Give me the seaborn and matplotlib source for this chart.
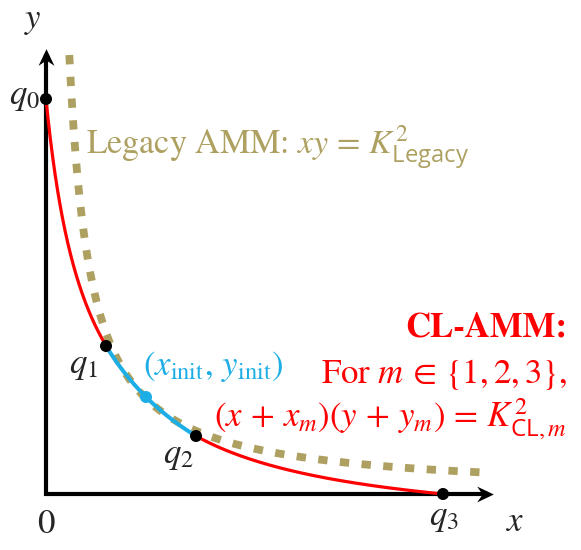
import numpy as np
import matplotlib
matplotlib.use("Agg")
import matplotlib.pyplot as plt
from matplotlib.path import Path
import seaborn as sns

# Key points (pixel offsets from the origin)
q_labels = ["$q_0$", "$q_1$", "$q_2$", "$q_3$"]
q_x = [0, 60, 150, 397]
q_y = [395, 148, 58, 0]

# CL-AMM pieces: (x + x_m)(y + y_m) = K_m^2, one piece per pair of q points
seg_xm = [41, 82, 31]
seg_ym = [20, 84, 42.5]
seg_colors = ["#FF0000", "#1EAEE6", "#FF0000"]

# Legacy curve: (x - shift) * y = K_legacy^2
legacy_shift = 2
legacy_k = 9350
legacy_x_range = [23.3, 443]

init_x = 100
init_y = 97

sns.set_theme(style="white")
plt.rcParams["font.family"] = ["STIXGeneral", "DejaVu Serif"]
plt.rcParams["mathtext.fontset"] = "custom"
plt.rcParams["mathtext.rm"] = "STIXGeneral"
plt.rcParams["mathtext.it"] = "STIXGeneral:italic"
plt.rcParams["mathtext.bf"] = "STIXGeneral:bold"
plt.rcParams["mathtext.sf"] = "Open Sans"
plt.rcParams["mathtext.fallback"] = "stix"

fig = plt.figure(figsize=(5.81, 5.5), dpi=100)
ax = fig.add_axes([0, 0, 1, 1])
ax.set_xlim(-46, 535)
ax.set_ylim(-56, 494)
ax.set_axis_off()

# axes with stealth arrow heads
ax.plot([0, 0, 442], [440, 0, 0], color="black", lw=3, solid_joinstyle="miter",
        solid_capstyle="butt", zorder=2)
stealth_right = Path([(1, 0), (-1, 0.95), (-0.35, 0), (-1, -0.95), (1, 0)],
                     [Path.MOVETO, Path.LINETO, Path.LINETO, Path.LINETO, Path.CLOSEPOLY])
stealth_up = Path([(0, 1), (0.95, -1), (0, -0.35), (-0.95, -1), (0, 1)],
                  [Path.MOVETO, Path.LINETO, Path.LINETO, Path.LINETO, Path.CLOSEPOLY])
ax.plot([439], [0], marker=stealth_right, markersize=12, color="black", mew=0, zorder=2)
ax.plot([0], [437], marker=stealth_up, markersize=12, color="black", mew=0, zorder=2)

# legacy AMM curve
lx = np.linspace(legacy_x_range[0], legacy_x_range[1], 400)
ly = legacy_k / (lx - legacy_shift)
ax.plot(lx, ly, color="#ADA060", lw=5.6, linestyle=(0, (1.2, 1.6)),
        dash_capstyle="butt", zorder=3)

# CL-AMM pieces
for m in range(3):
    k = (q_x[m] + seg_xm[m]) * (q_y[m] + seg_ym[m])
    sx = np.linspace(q_x[m], q_x[m + 1], 200)
    sy = k / (sx + seg_xm[m]) - seg_ym[m]
    sns.lineplot(x=sx, y=sy, ax=ax, color=seg_colors[m], sort=False,
                 lw=2.3 if m != 1 else 2.9, zorder=4)

sns.scatterplot(x=q_x, y=q_y, ax=ax, color="black", s=75, edgecolor="none", zorder=6)
sns.scatterplot(x=[init_x], y=[init_y], ax=ax, color="#1EAEE6", s=75,
                edgecolor="none", zorder=6)

fs = 25
ax.text(-13, 473, "$y$", fontsize=fs, ha="center", va="center")
ax.text(469, -29, "$x$", fontsize=fs, ha="center", va="center")
ax.text(0, -31, "0", fontsize=fs, ha="center", va="center")
ax.text(-6, 397, q_labels[0], fontsize=fs, ha="right", va="center")
ax.text(52, 128, q_labels[1], fontsize=fs, ha="right", va="center")
ax.text(132, 38, q_labels[2], fontsize=fs, ha="center", va="center")
ax.text(398, -24, q_labels[3], fontsize=fs, ha="center", va="center")

ax.text(40, 346, r"Legacy AMM: $xy\,=\,K_{\mathsf{Legacy}}^{2}$", fontsize=24.5,
        color="#ADA060", ha="left", va="center")
ax.text(97, 128, r"$(x_{\mathrm{init}},\, y_{\mathrm{init}})$", fontsize=fs,
        color="#1EAEE6", ha="left", va="center")
ax.text(521, 166, "CL-AMM:", fontsize=fs, color="#FF0000", fontweight="bold",
        ha="right", va="center")
ax.text(521, 120, r"For $m\,\in\,\{1, 2, 3\}$,", fontsize=fs, color="#FF0000",
        ha="right", va="center")
ax.text(521, 75, r"$(x\,+\,x_m)(y\,+\,y_m)\,=\,K_{\mathsf{CL},m}^{2}$", fontsize=fs,
        color="#FF0000", ha="right", va="center")

fig.savefig("out.png", dpi=100)
plt.close(fig)
